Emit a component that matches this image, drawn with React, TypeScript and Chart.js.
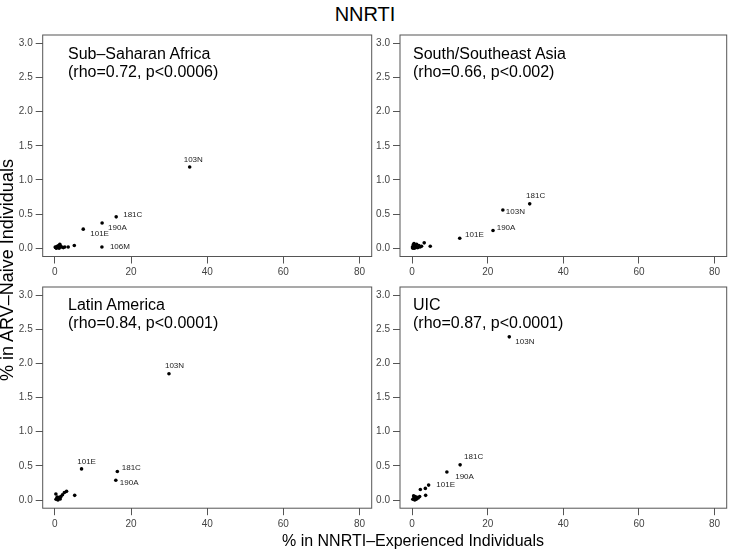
import React, { useEffect, useRef } from "react";
import Chart from "chart.js/auto";

// ---------- data ----------
const xTicks = [0, 20, 40, 60, 80];
const yTicks = [0, 0.5, 1, 1.5, 2, 2.5, 3];

const ssaX = [35.4, 16.1, 12.4, 7.45, 12.35, 5.1, 0.2, 0.4, 0.6, 0.8, 1.0, 1.3, 1.5, 1.8, 2.2, 2.6, 3.5, 0.1, 1.1];
const ssaY = [1.19, 0.46, 0.37, 0.28, 0.02, 0.04, 0.01, 0.0, 0.03, 0.02, 0.04, 0.06, 0.03, 0.02, 0.01, 0.02, 0.02, 0.02, 0.0];
const ssaLabels = ["103N", "181C", "190A", "101E", "106M"];

const seaX = [31.1, 24.0, 21.4, 12.6, 3.2, 4.8, 0.1, 0.3, 0.6, 0.9, 1.2, 1.5, 1.8, 2.1, 2.5, 0.5, 0.2, 1.0];
const seaY = [0.65, 0.56, 0.26, 0.146, 0.08, 0.03, 0.02, 0.05, 0.0, 0.03, 0.06, 0.01, 0.04, 0.02, 0.03, 0.07, 0.0, 0.01];
const seaLabels = ["181C", "103N", "190A", "101E"];

const laX = [29.96, 7.0, 16.4, 16.0, 0.26, 3.07, 2.0, 5.2, 1.6, 1.2, 0.5, 0.8, 0.3, 1.0, 0.6, 1.4, 2.5];
const laY = [1.85, 0.456, 0.417, 0.29, 0.087, 0.127, 0.077, 0.068, 0.05, 0.04, 0.02, 0.0, 0.01, 0.03, 0.045, 0.015, 0.11];
const laLabels = ["103N", "101E", "181C", "190A"];

const uicX = [25.7, 12.7, 9.2, 4.37, 2.18, 3.5, 3.58, 0.2, 0.5, 0.8, 1.0, 1.3, 1.6, 2.0, 0.4, 0.7, 1.1];
const uicY = [2.39, 0.515, 0.41, 0.218, 0.155, 0.17, 0.068, 0.01, 0.03, 0.05, 0.02, 0.04, 0.03, 0.05, 0.06, 0.0, 0.01];
const uicLabels = ["103N", "181C", "190A", "101E"];

const panelTitles = ["Sub–Saharan Africa", "South/Southeast Asia", "Latin America", "UIC"];
const panelStats = ["(rho=0.72, p<0.0006)", "(rho=0.66, p<0.002)", "(rho=0.84, p<0.0001)", "(rho=0.87, p<0.0001)"];

const mainTitle = "NNRTI";
const xTitle = "% in NNRTI–Experienced Individuals";
const yTitle = "% in ARV–Naive Individuals";

// ---------- styles / layout (not data) ----------
const FONT = "'Liberation Sans', Arial, Helvetica, sans-serif";
const labelOffsets: Record<string, [number, number][]> = {
  ssa: [[-6, -7], [7, -2], [6, 4.5], [7, 4.5], [8, 0]],
  sea: [[-3.6, -8], [3, 1.3], [3.7, -3], [5.3, -4]],
  la: [[-4, -7.7], [-4.3, -6.7], [4.4, -4], [4, 3]],
  uic: [[6, 5], [4, -8.4], [8.3, 4.6], [7.7, 0]],
};

const colLeft = { left: 0, width: 376, yAxisW: 42.7, padRight: 4.3, textLeft: 68 };
const colRight = { left: 358, width: 372, yAxisW: 42, padRight: 3.3, textLeft: 413 };
const rowTop = { top: 26, height: 262, padTop: 8.1, xAxisH: 31.5, text1: 54, text2: 72 };
const rowBottom = { top: 278, height: 262, padTop: 7.8, xAxisH: 31.8, text1: 305, text2: 323 };

type PanelProps = {
  xs: number[];
  ys: number[];
  labels: string[];
  offsets: [number, number][];
  col: typeof colLeft;
  row: typeof rowTop;
};

function Panel({ xs, ys, labels, offsets, col, row }: PanelProps) {
  const ref = useRef<HTMLCanvasElement | null>(null);
  useEffect(() => {
    if (!ref.current) return;
    const boxPlugin = {
      id: "box",
      beforeDatasetsDraw(chart: any) {
        const { ctx, chartArea: a } = chart;
        ctx.save();
        ctx.strokeStyle = "#555";
        ctx.lineWidth = 1;
        ctx.strokeRect(a.left, a.top, a.right - a.left, a.bottom - a.top);
        ctx.restore();
      },
    };
    const labelPlugin = {
      id: "ptlabels",
      afterDatasetsDraw(chart: any) {
        const { ctx } = chart;
        const meta = chart.getDatasetMeta(0);
        ctx.save();
        ctx.font = `8px ${FONT}`;
        ctx.fillStyle = "#222";
        ctx.textAlign = "left";
        ctx.textBaseline = "middle";
        labels.forEach((t, i) => {
          const el = meta.data[i];
          if (!el || !t) return;
          const [dx, dy] = offsets[i] || [5, 0];
          ctx.fillText(t, el.x + dx, el.y + dy);
        });
        ctx.restore();
      },
    };
    const tickFont = { family: FONT, size: 10 };
    const chart = new Chart(ref.current, {
      type: "scatter",
      data: {
        datasets: [
          {
            data: xs.map((x, i) => ({ x, y: ys[i] })),
            pointRadius: 1.8,
            pointHoverRadius: 1.8,
            backgroundColor: "#000",
            borderWidth: 0,
          },
        ],
      },
      options: {
        responsive: false,
        animation: false,
        events: [],
        layout: { padding: { top: row.padTop, right: col.padRight, left: 0, bottom: 0 } },
        plugins: { legend: { display: false }, tooltip: { enabled: false }, title: { display: false } },
        scales: {
          x: {
            type: "linear",
            min: -3.2,
            max: 83.2,
            afterBuildTicks: (s: any) => {
              s.ticks = xTicks.map((v) => ({ value: v }));
            },
            afterFit: (s: any) => {
              s.height = row.xAxisH;
            },
            ticks: { font: tickFont, color: "#444", padding: 3, maxRotation: 0, autoSkip: false, callback: (v: any) => String(v) },
            grid: { drawOnChartArea: false, drawTicks: true, tickLength: 7, color: "#555", lineWidth: 1 },
            border: { display: false },
          },
          y: {
            type: "linear",
            min: -0.12,
            max: 3.12,
            afterBuildTicks: (s: any) => {
              s.ticks = yTicks.map((v) => ({ value: v }));
            },
            afterFit: (s: any) => {
              s.width = col.yAxisW;
            },
            ticks: { font: tickFont, color: "#444", padding: 3, autoSkip: false, callback: (v: any) => Number(v).toFixed(1) },
            grid: { drawOnChartArea: false, drawTicks: true, tickLength: 7, color: "#555", lineWidth: 1 },
            border: { display: false },
          },
        },
      },
      plugins: [boxPlugin, labelPlugin],
    } as any);
    return () => chart.destroy();
  }, []);
  return (
    <canvas
      ref={ref}
      width={col.width}
      height={row.height}
      style={{ position: "absolute", left: col.left, top: row.top, width: col.width, height: row.height }}
    />
  );
}

function PanelText({ title, stat, col, row }: { title: string; stat: string; col: typeof colLeft; row: typeof rowTop }) {
  const base: React.CSSProperties = {
    position: "absolute",
    left: col.textLeft,
    fontFamily: FONT,
    fontSize: 16,
    lineHeight: "18px",
    color: "#000",
    whiteSpace: "nowrap",
  };
  return (
    <>
      <div style={{ ...base, top: row.text1 - 9 }}>{title}</div>
      <div style={{ ...base, top: row.text2 - 9 }}>{stat}</div>
    </>
  );
}

export default function App() {
  return (
    <div style={{ position: "absolute", left: 0, top: 0, width: 730, height: 552, background: "#fff", overflow: "hidden" }}>
      <Panel xs={ssaX} ys={ssaY} labels={ssaLabels} offsets={labelOffsets.ssa} col={colLeft} row={rowTop} />
      <Panel xs={seaX} ys={seaY} labels={seaLabels} offsets={labelOffsets.sea} col={colRight} row={rowTop} />
      <Panel xs={laX} ys={laY} labels={laLabels} offsets={labelOffsets.la} col={colLeft} row={rowBottom} />
      <Panel xs={uicX} ys={uicY} labels={uicLabels} offsets={labelOffsets.uic} col={colRight} row={rowBottom} />
      <PanelText title={panelTitles[0]} stat={panelStats[0]} col={colLeft} row={rowTop} />
      <PanelText title={panelTitles[1]} stat={panelStats[1]} col={colRight} row={rowTop} />
      <PanelText title={panelTitles[2]} stat={panelStats[2]} col={colLeft} row={rowBottom} />
      <PanelText title={panelTitles[3]} stat={panelStats[3]} col={colRight} row={rowBottom} />
      <div
        style={{
          position: "absolute",
          left: 0,
          width: 730,
          top: 2,
          textAlign: "center",
          fontFamily: FONT,
          fontSize: 20,
          lineHeight: "24px",
        }}
      >
        {mainTitle}
      </div>
      <div
        style={{
          position: "absolute",
          left: 413 - 200,
          width: 400,
          top: 531,
          textAlign: "center",
          fontFamily: FONT,
          fontSize: 16,
          lineHeight: "20px",
        }}
      >
        {xTitle}
      </div>
      <div
        style={{
          position: "absolute",
          left: 7 - 150,
          top: 270 - 10,
          width: 300,
          height: 20,
          textAlign: "center",
          fontFamily: FONT,
          fontSize: 18,
          lineHeight: "20px",
          transform: "rotate(-90deg)",
          transformOrigin: "50% 50%",
          whiteSpace: "nowrap",
        }}
      >
        {yTitle}
      </div>
    </div>
  );
}
